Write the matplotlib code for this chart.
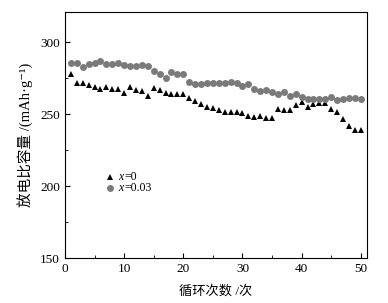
import numpy as np
import matplotlib.pyplot as plt
from matplotlib.ticker import MultipleLocator

plt.rcParams['font.family'] = ['Liberation Serif', 'Noto Sans CJK SC', 'DejaVu Sans']

cycles = np.arange(1, 51)
cap_x0 = [278, 272, 272, 270.6, 269.2, 267.6, 268.7, 267.6, 267.6, 264.6,
          268.7, 266.7, 266, 263, 268, 267, 265, 264, 264, 264,
          261.3, 259.4, 257.2, 255.3, 254.2, 253, 251.8, 251.8, 251.8, 250.7,
          249, 248.3, 249, 247.2, 247.2, 253.7, 253, 253, 256.2, 258.3,
          255.3, 257.2, 258, 258, 253.5, 251.4, 246.5, 242, 239, 239]
cap_x003 = [285.8, 285.4, 282.6, 284.7, 285.8, 287, 284.7, 284.7, 285.8, 284,
            283.8, 283.6, 284.5, 283.6, 280.3, 278, 275.4, 279.2, 278, 278,
            272.4, 271, 271, 271.5, 272, 272, 272, 272.7, 271.5, 269.7,
            270.8, 267.8, 266.2, 267, 265.5, 263.9, 265.3, 263, 264.2, 261.8,
            261, 261, 261, 261, 261.8, 260, 261, 261.5, 261.5, 260.8]

fig = plt.figure(figsize=(3.88, 3.03), dpi=100)
ax = fig.add_axes([0.1675, 0.1475, 0.7775, 0.8125])

ax.plot(cycles, cap_x0, '^', color='black', markersize=5, markeredgewidth=0)
ax.plot(cycles, cap_x003, 'o', color='#7a7a7a', markersize=5, markeredgewidth=0)

# legend drawn by hand like the original
ax.plot([7.6], [206.5], '^', color='black', markersize=5, markeredgewidth=0)
ax.plot([7.6], [199], 'o', color='#7a7a7a', markersize=5, markeredgewidth=0)
ax.text(9.0, 206.5, 'x', fontsize=8.5, style='italic', va='center')
ax.text(10.1, 206.5, '=0', fontsize=8.5, va='center')
ax.text(9.0, 199, 'x', fontsize=8.5, style='italic', va='center')
ax.text(10.1, 199, '=0.03', fontsize=8.5, va='center')

ax.set_xlim(0, 51)
ax.set_ylim(150, 321)
ax.xaxis.set_major_locator(MultipleLocator(10))
ax.xaxis.set_minor_locator(MultipleLocator(5))
ax.yaxis.set_major_locator(MultipleLocator(50))
ax.yaxis.set_minor_locator(MultipleLocator(25))
ax.tick_params(which='both', direction='in', labelsize=9.5)
ax.tick_params(which='major', length=3.5)
ax.tick_params(which='minor', length=2)
for s in ax.spines.values():
    s.set_linewidth(0.8)

ax.set_xlabel('循环次数 /次', fontsize=9.5, labelpad=7)
ax.set_ylabel('放电比容量 /(mAh·g⁻¹)', fontsize=10.5, labelpad=5)

fig.savefig('out.png', dpi=100)
